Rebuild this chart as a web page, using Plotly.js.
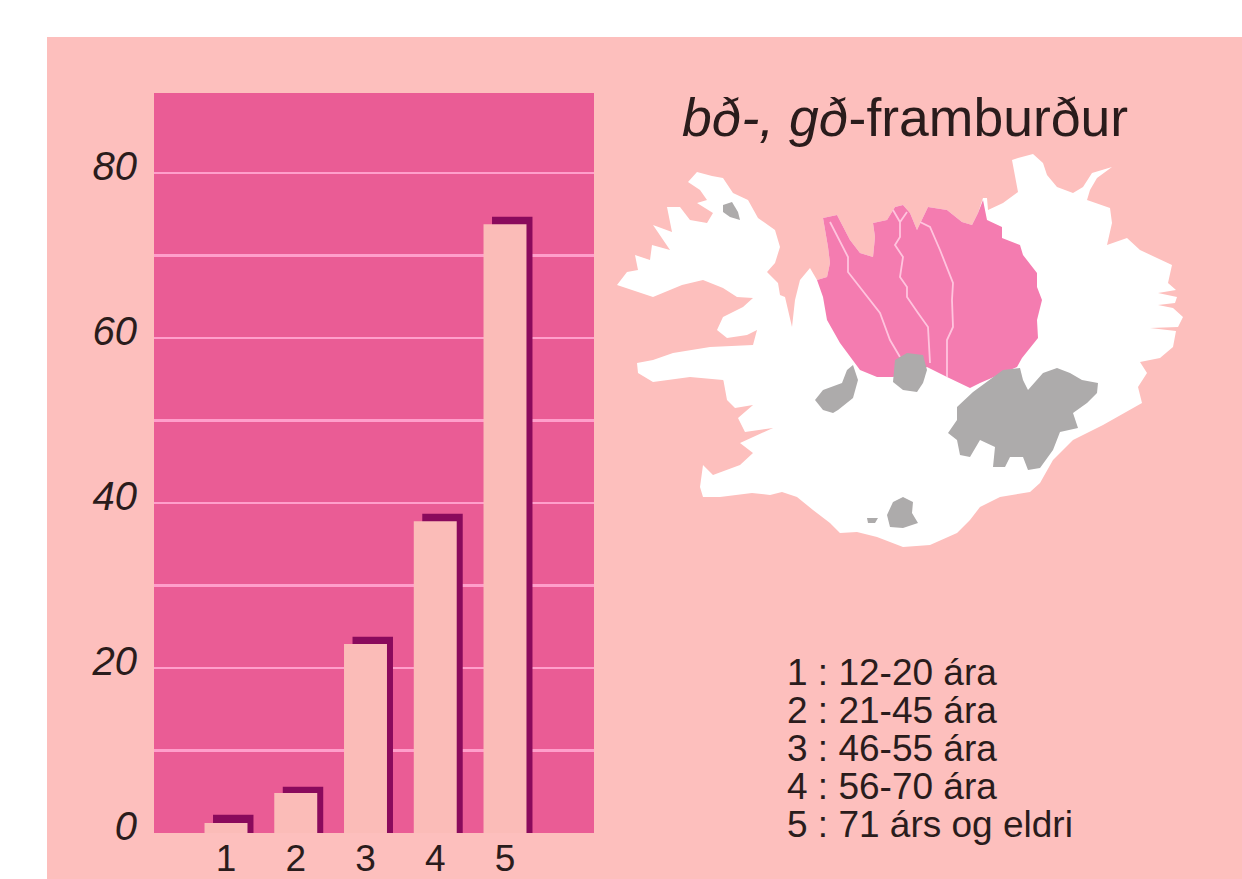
<!DOCTYPE html>
<html><head><meta charset="utf-8">
<script src="https://cdn.plot.ly/plotly-3.0.1.min.js"></script>
<style>html,body{margin:0;padding:0;background:#fff;overflow:hidden}#c{position:absolute;left:47px;top:37px;width:1195px;height:842px}</style>
</head><body><div id="c"></div>
<script>
const ageGroups=[1,2,3,4,5];
const frontValues=[1.2,4.85,22.9,37.8,73.8];
const shadowValues=[2.2,5.6,23.8,38.7,74.7];
const gridTicks=[0,10,20,30,40,50,60,70,80];
const labelTicks=[0,20,40,60,80];
const legendLines=["1 : 12-20 ára","2 : 21-45 ára","3 : 46-55 ára","4 : 56-70 ára","5 : 71 árs og eldri"];
const legendY=[672,710,748,786,824];
const titleText="<i>bð-, gð</i>-framburður";

const landX=[688,697,712,723,733,748,758,775,780,775,767,778,780,785,792,795,800,810,817,827,830,828,823,837,850,860,873,875,873,887,895,903,910,917,928,947,962,972,978,983,987,988,1003,1018,1012,1018,1033,1043,1047,1057,1073,1083,1092,1112,1097,1090,1087,1110,1112,1107,1127,1140,1157,1172,1168,1176,1158,1177,1175,1158,1173,1183,1178,1150,1176,1173,1160,1140,1147,1138,1142,1120,1103,1073,1053,1040,1030,1000,980,970,957,930,903,877,857,840,830,813,797,782,770,752,720,703,700,703,713,740,753,740,773,745,738,753,735,727,723,725,723,690,653,638,637,653,673,710,753,757,747,727,717,723,743,753,737,723,703,682,653,617,627,638,635,650,652,670,653,672,667,680,690,707,713,697,707,700];
const landY=[182,172,176,178,193,200,218,230,247,263,272,283,295,297,327,300,280,268,280,277,263,247,218,215,240,253,257,237,223,220,207,205,213,230,207,210,222,225,213,198,198,210,203,192,160,158,154,163,175,187,193,187,173,167,178,190,200,208,223,245,238,250,258,265,283,290,293,297,303,305,308,317,327,328,331,347,358,362,373,387,403,415,425,440,460,483,492,497,507,520,533,545,547,537,532,533,523,510,497,492,495,493,497,497,487,465,475,465,453,443,428,432,418,405,408,400,378,383,380,377,382,373,363,360,353,347,345,330,335,338,330,317,307,298,297,288,280,285,297,285,272,270,255,260,245,250,225,232,207,207,220,223,213,203,200,190];

const pinkX=[817,827,830,828,823,837,850,860,873,875,873,887,895,903,910,917,928,947,962,972,978,983,987,1002,1002,1020,1023,1037,1037,1042,1037,1038,1022,1017,980,970,947,927,893,877,860,840,827,823];
const pinkY=[280,277,263,247,218,215,240,253,257,237,223,220,207,205,213,230,207,210,222,225,213,200,220,227,238,245,255,273,287,300,320,338,358,367,383,388,377,367,377,377,370,343,320,297];

const river1X=[830,848,848,867,880,890,900];
const river1Y=[222,257,272,297,313,340,357];
const river2X=[893,900,907,900,900,895,903,900,907,907,918,928,930];
const river2Y=[210,222,212,222,237,245,257,277,287,297,313,327,363];
const river3X=[920,930,940,953,952,953,947,947];
const river3Y=[222,227,250,283,300,327,340,377];

const drangaX=[723,732,738,740,730,723];
const drangaY=[205,202,212,220,217,212];
const langX=[847,853,858,853,838,833,823,815,823,842];
const langY=[370,365,380,398,410,413,410,400,390,383];
const hofsX=[895,907,923,927,923,917,903,893];
const hofsY=[360,353,355,370,383,392,390,382];
const vatnaX=[957,973,1003,1020,1023,1028,1043,1057,1070,1082,1098,1097,1087,1073,1078,1060,1053,1040,1028,1023,1010,1005,993,995,980,970,960,957,948,957];
const vatnaY=[407,392,370,368,380,390,373,368,373,380,383,393,403,413,428,432,450,468,470,457,457,467,467,447,440,457,455,440,433,420];
const myrdalX=[887,893,903,913,912,918,903,890];
const myrdalY=[515,502,497,502,513,523,528,527];
const eyjaX=[867,878,875,868];
const eyjaY=[518,518,523,523];

const PAPER="#fdbfbd",PLOT="#ea5c95",DARK="#8a0a5c",FRONT="#fbbcb8",GRID="#ff9fcb",
      WHITE="#ffffff",REGION="#f47cb0",GRAY="#adabab",RIVER="#ffc4de",TXT="#2a1c1c";
const FONT="Liberation Sans, Arial, sans-serif";
const W=1195,H=842,OX=47,OY=37;

function poly(x,y,c){return {type:"scatter",mode:"lines",x,y,xaxis:"x2",yaxis:"y3",fill:"toself",fillcolor:c,line:{width:0,color:c},hoverinfo:"skip",showlegend:false};}
function riverLine(x,y){return {type:"scatter",mode:"lines",x,y,xaxis:"x2",yaxis:"y3",line:{width:1.8,color:RIVER},hoverinfo:"skip",showlegend:false};}

const traces=[
 {type:"bar",x:ageGroups,y:shadowValues,width:0.58,offset:-0.186,marker:{color:DARK,line:{width:0}},hoverinfo:"skip"},
 {type:"bar",x:ageGroups,y:frontValues,width:0.616,offset:-0.308,marker:{color:FRONT,line:{width:0}},hoverinfo:"skip"},
 {type:"scatter",mode:"markers",x:[null],y:[null],yaxis:"y2",marker:{opacity:0},hoverinfo:"skip",showlegend:false},
 poly(landX,landY,WHITE),poly(pinkX,pinkY,REGION),
 riverLine(river1X,river1Y),riverLine(river2X,river2Y),riverLine(river3X,river3Y),
 poly(drangaX,drangaY,GRAY),poly(langX,langY,GRAY),poly(hofsX,hofsY,GRAY),
 poly(vatnaX,vatnaY,GRAY),poly(myrdalX,myrdalY,GRAY),poly(eyjaX,eyjaY,GRAY)
];

const unit=8.25, yTop=(833-93)/unit, labelShift=0.85;
const annotations=[{xref:"x2",yref:"y3",x:905,y:117,text:titleText,showarrow:false,xanchor:"center",yanchor:"middle",font:{family:FONT,size:53.5,color:TXT}}]
 .concat(legendLines.map((t,i)=>({xref:"x2",yref:"y3",x:785,y:legendY[i],text:t,showarrow:false,xanchor:"left",yanchor:"middle",font:{family:FONT,size:37,color:TXT}})));

const layout={
 width:W,height:H,margin:{l:0,r:0,t:0,b:0,pad:0},paper_bgcolor:PAPER,plot_bgcolor:"rgba(0,0,0,0)",
 barmode:"overlay",showlegend:false,font:{family:FONT,color:TXT},
 shapes:[{type:"rect",xref:"x domain",yref:"y domain",x0:0,x1:1,y0:0,y1:1,fillcolor:PLOT,line:{width:0},layer:"below"}],
 xaxis:{domain:[(154-OX)/W,(594-OX)/W],range:[1-72/69.75,1+368/69.75],tickmode:"array",tickvals:ageGroups,ticktext:ageGroups.map(String),
  showgrid:false,zeroline:false,ticks:"",ticklen:0,showline:false,tickfont:{family:FONT,size:37,color:TXT},anchor:"y"},
 yaxis:{domain:[(OY+H-833)/H,(OY+H-93)/H],range:[0,yTop],tickmode:"array",tickvals:gridTicks,showticklabels:false,
  showgrid:true,gridcolor:GRID,gridwidth:2.5,zeroline:false,ticks:"",showline:false,anchor:"x"},
 yaxis2:{domain:[(OY+H-833)/H,(OY+H-93)/H],overlaying:"y",side:"left",range:[-labelShift,yTop-labelShift],tickmode:"array",tickvals:labelTicks,ticktext:labelTicks.map(String),
  showgrid:false,zeroline:false,ticks:"",showline:false,anchor:"x",ticklabelstandoff:16,
  tickfont:{family:FONT,size:40,color:TXT,style:"italic"}},
 xaxis2:{domain:[(600-OX)/W,1],range:[600,1242],visible:false,anchor:"y3",fixedrange:true},
 yaxis3:{domain:[0,1],range:[879,37],visible:false,anchor:"x2",fixedrange:true},
 annotations
};
Plotly.newPlot("c",traces,layout,{staticPlot:true,displayModeBar:false});
</script></body></html>
